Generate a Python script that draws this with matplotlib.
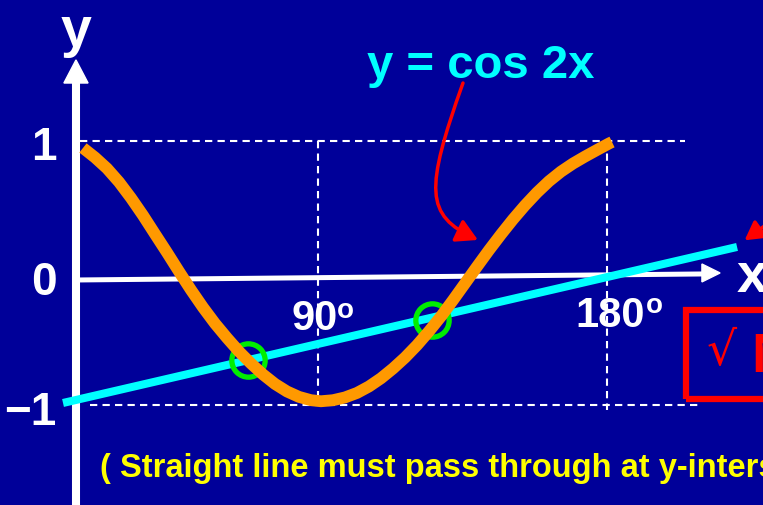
import matplotlib
matplotlib.use("Agg")
import matplotlib.pyplot as plt
from matplotlib.patches import Polygon, Rectangle, FancyArrowPatch
from matplotlib.path import Path

# orange curve y = cos 2x, as sketched on the slide (degrees, value)
curve_deg = [1.02, 5.12, 9.22, 13.32, 17.42, 21.52, 25.61, 29.71, 33.81, 37.91,
             42.01, 46.11, 50.20, 54.30, 58.40, 62.50, 66.60, 70.70, 74.80, 78.89,
             82.31, 86.41, 90.51, 94.60, 98.70, 102.80, 106.90, 111.00, 115.10, 119.19,
             123.29, 127.39, 131.49, 135.59, 139.69, 143.78, 147.88, 151.98, 156.08,
             160.18, 164.28, 168.37, 172.47, 176.57, 180.67, 181.70]
curve_val = [0.947, 0.875, 0.792, 0.689, 0.568, 0.436, 0.295, 0.155, 0.011, -0.129,
             -0.261, -0.383, -0.492, -0.595, -0.686, -0.769, -0.841, -0.898, -0.939, -0.964,
             -0.972, -0.964, -0.943, -0.909, -0.860, -0.798, -0.724, -0.641, -0.547, -0.442,
             -0.329, -0.206, -0.079, 0.048, 0.173, 0.292, 0.406, 0.512, 0.609,
             0.695, 0.768, 0.829, 0.882, 0.932, 0.981, 0.992]

# straight line
line_deg = [-5.8, 224.4]
line_val = [-0.985, 0.197]

# intersection points (green circles)
cross_deg = [57.5, 120.1]
cross_val = [-0.659, -0.356]

# reference lines
grid_90 = 81.3
grid_180 = 180.0
tick_labels = ["1", "0", "\u22121"]
tick_base = [0.856, -0.167, -1.15]

BG = "#000099"

fig = plt.figure(figsize=(7.63, 5.05), dpi=100, facecolor=BG)
ax = fig.add_axes([0, 0, 1, 1])
ax.set_facecolor(BG)
ax.set_xlim(-27.32, 233.26)
ax.set_ylim(-1.758, 2.068)
ax.axis("off")

# dashed guides
dash = dict(color="white", lw=1.5, dashes=(3.5, 2.5), zorder=1)
ax.plot([0, 206.6], [1, 1], **dash)
ax.plot([3.4, 211.7], [-1, -1], **dash)
ax.plot([grid_90, grid_90], [1, -0.98], **dash)
ax.plot([grid_180, grid_180], [1, -1.04], **dash)

# axes
ax.plot([-1.37, -1.37], [-1.8, 1.45], color="white", lw=5.8, solid_capstyle="butt", zorder=2)
ax.add_patch(Polygon([[-1.37, 1.614], [-5.5, 1.439], [2.76, 1.439]], closed=True,
                     color="white", zorder=2))
ax.plot([0, 212.6], [-0.053, -0.0076], color="white", lw=3.6, solid_capstyle="butt", zorder=2)
ax.add_patch(Polygon([[218.6, 0.0], [212.4, 0.068], [212.4, -0.068]], closed=True,
                     color="white", zorder=2))

# straight line, circles, curve
ax.plot(line_deg, line_val, color="#00FFFF", lw=5.8, solid_capstyle="butt", zorder=3)
ax.plot(cross_deg, cross_val, "o", ms=24, mfc="none", mec="#00EE00", mew=3.8, zorder=4)
ax.plot(curve_deg, curve_val, color="#FF9900", lw=8.5, solid_capstyle="butt",
        solid_joinstyle="round", zorder=5)

bold = dict(fontfamily=["Liberation Sans", "DejaVu Sans"], fontweight="bold")

# axis labels and ticks
ax.text(-1.4, 1.72, "y", color="white", fontsize=40, ha="center", va="baseline", **bold)
ax.text(224.4, -0.144, "x", color="white", fontsize=40, ha="left", va="baseline", **bold)
for lab, base in zip(tick_labels, tick_base):
    ax.text(-8.0, base, lab, color="white", fontsize=33, ha="right", va="baseline", **bold)

ax.text(72.4, -0.432, "90", color="white", fontsize=30, ha="left", va="baseline", **bold)
ax.text(87.6, -0.341, "o", color="white", fontsize=20, ha="left", va="baseline", **bold)
ax.text(169.1, -0.409, "180", color="white", fontsize=30, ha="left", va="baseline", **bold)
ax.text(193.4, -0.303, "o", color="white", fontsize=20, ha="left", va="baseline", **bold)

# title of curve + arrow
ax.text(98.0, 1.477, "y = cos 2x", color="#00FFFF", fontsize=34, ha="left", va="baseline", **bold)
arrow_path = Path([(130.8, 1.439), (117.8, 0.629), (117.8, 0.439), (135.9, 0.25)],
                  [Path.MOVETO, Path.CURVE4, Path.CURVE4, Path.CURVE4])
ax.add_patch(FancyArrowPatch(path=arrow_path, arrowstyle="-|>,head_length=0.8,head_width=0.45",
                             mutation_scale=16, color="red", lw=2.5, zorder=6))
ax.add_patch(FancyArrowPatch((236.5, 0.40), (226.2, 0.235),
                             arrowstyle="-|>,head_length=0.8,head_width=0.45",
                             mutation_scale=14, color="red", lw=2.5, zorder=6))

# red box on the right
ax.add_patch(Rectangle((207.0, -0.955), 40, 0.675, fill=False, ec="red", lw=4.5, zorder=6))
ax.text(219.2, -0.6, "\u221a", color="red", fontsize=34, ha="center", va="center",
        fontfamily=["DejaVu Sans"], zorder=6)
ax.text(229.3, -0.75, "N", color="red", fontsize=40, ha="left", va="baseline", **bold)

# note at the bottom
ax.text(6.8, -1.545, "( Straight line must pass through at y-intersect )", color="#FFFF00",
        fontsize=23.5, ha="left", va="baseline", **bold)

fig.savefig("out.png", dpi=100, facecolor=BG)
